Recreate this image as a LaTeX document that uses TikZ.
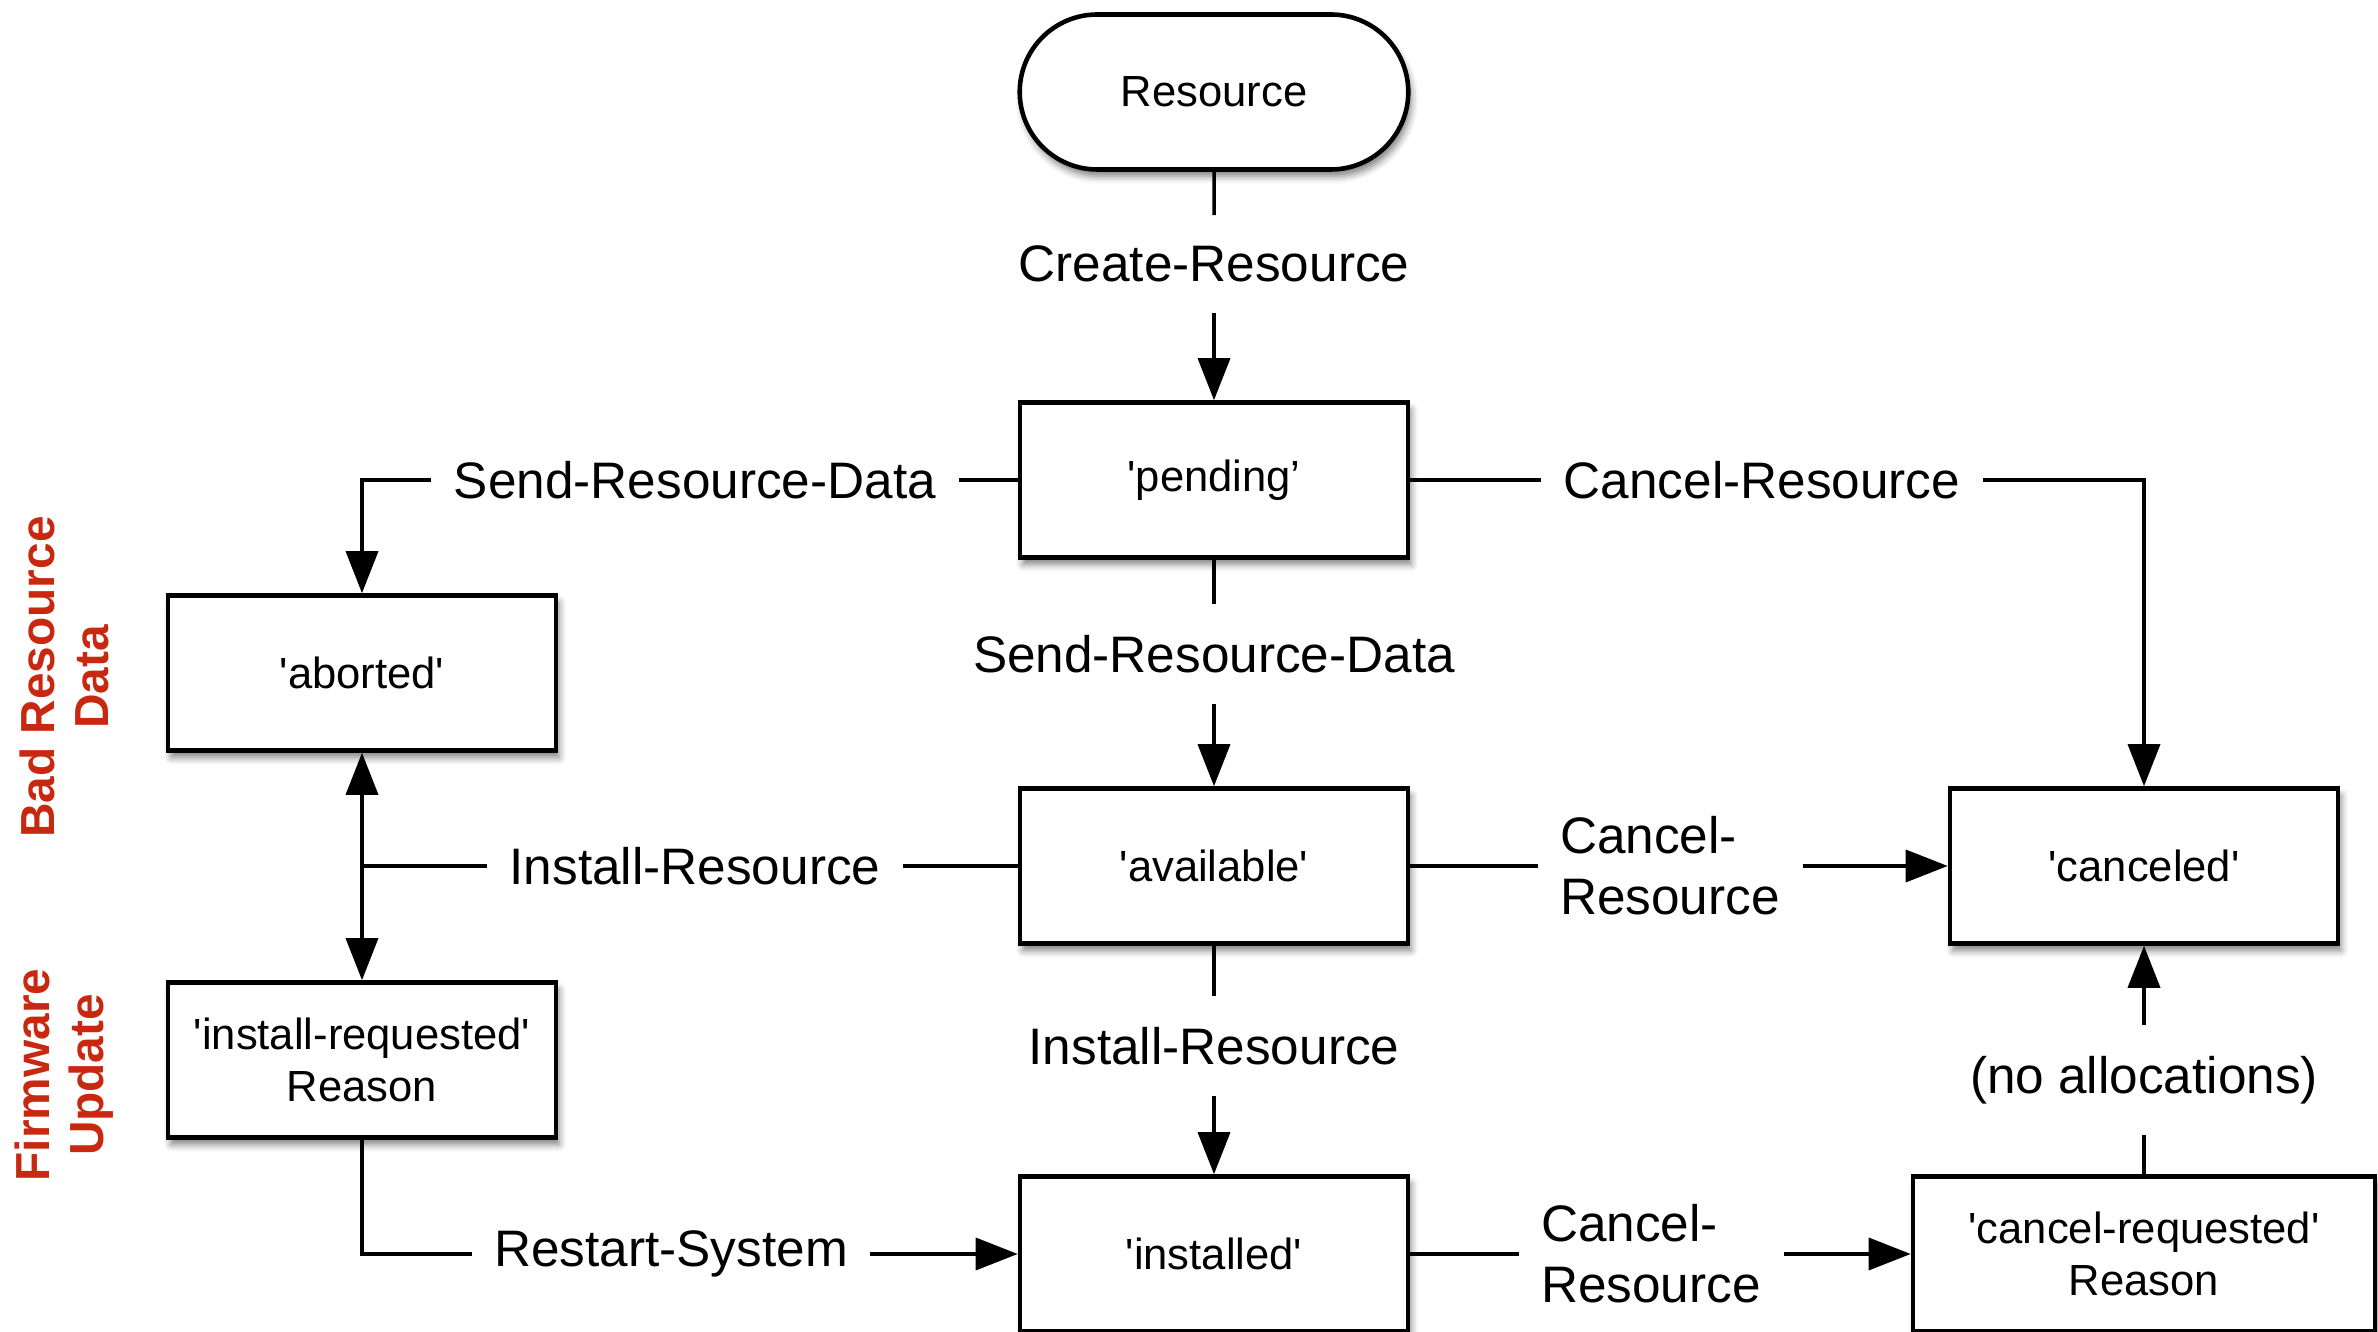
\documentclass[tikz,border=0pt]{standalone}
\usepackage{fontspec}
\setmainfont{Liberation Sans}
\usetikzlibrary{arrows.meta,shapes.misc,shadows.blur}
\definecolor{notered}{RGB}{200,40,15}
\newcommand{\sq}{\textquotesingle}
\tikzset{
    state/.style={draw, line width=1.3pt, fill=white, minimum width=3.88cm, minimum height=1.55cm,
        align=center, font=\fontsize{12.4}{14.8}\selectfont,
        blur shadow={shadow xshift=0.03cm, shadow yshift=-0.07cm, shadow blur radius=0.07cm, shadow opacity=50}},
    terminal/.style={state, rounded rectangle, minimum width=4.12cm},
    event/.style={inner xsep=0.22cm, inner ysep=0.3cm, align=left, font=\fontsize{14.6}{17.4}\selectfont},
    note/.style={text=notered, rotate=90, align=center, font=\fontsize{13.6}{15.4}\selectfont\bfseries},
    flow/.style={line width=1pt, -{Triangle[length=0.42cm, width=0.32cm]}},
    link/.style={line width=1pt}
}
\begin{document}
\begin{tikzpicture}
        \useasboundingbox (0,0) rectangle (23.78,-13.32);
        % --- States ---
        \node[terminal] (res) at (12.14,-0.92) {Resource};
        \node[state] (pend) at (12.14,-4.80) {\sq pending’};
        \node[state] (avail) at (12.14,-8.66) {\sq available\sq};
        \node[state] (inst) at (12.14,-12.54) {\sq installed\sq};
        \node[state] (abort) at (3.62,-6.73) {\sq aborted\sq};
        \node[state] (instreq) at (3.62,-10.60) {\sq install-requested\sq\\Reason};
        \node[state] (cancd) at (21.44,-8.66) {\sq canceled\sq};
        \node[state, minimum width=4.62cm] (cancreq) at (21.44,-12.54) {\sq cancel-requested\sq\\Reason};
        % ---

        % --- Event labels ---
        \node[event] (lcreate) at (12.14,-2.64) {Create-Resource};
        \node[event] (lsendL) at (6.95,-4.80) {Send-Resource-Data};
        \node[event] (lcancT) at (17.62,-4.80) {Cancel-Resource};
        \node[event] (lsendM) at (12.14,-6.54) {Send-Resource-Data};
        \node[event] (linstL) at (6.95,-8.66) {Install-Resource};
        \node[event] (lcancM) at (16.70,-8.66) {Cancel-\\Resource};
        \node[event] (linstM) at (12.14,-10.46) {Install-Resource};
        \node[event] (lnoalloc) at (21.44,-10.80) {(no allocations)};
        \node[event] (lrestart) at (6.71,-12.54) {Restart-System};
        \node[event] (lcancB) at (16.51,-12.54) {Cancel-\\Resource};
        % ---

        % --- Side notes ---
        \node[note] (nbad) at (0.64,-6.77) {Bad Resource\\Data};
        \node[note] (nfw) at (0.64,-10.75) {Firmware\\Update};
        % ---

        % --- Transitions ---
        \draw[link] (res) -- (lcreate);
        \draw[flow] (lcreate) -- (pend);
        \draw[link] (pend) -- (lsendL);
        \draw[flow] (lsendL) -| (abort);
        \draw[link] (pend) -- (lcancT);
        \draw[flow] (lcancT) -| (cancd);
        \draw[link] (pend) -- (lsendM);
        \draw[flow] (lsendM) -- (avail);
        \coordinate (split) at (linstL -| abort);
        \draw[link] (avail) -- (linstL);
        \draw[link] (linstL) -- (split);
        \draw[flow] (split) -- (abort);
        \draw[flow] (split) -- (instreq);
        \draw[link] (avail) -- (lcancM);
        \draw[flow] (lcancM) -- (cancd);
        \draw[link] (avail) -- (linstM);
        \draw[flow] (linstM) -- (inst);
        \draw[link] (instreq) |- (lrestart);
        \draw[flow] (lrestart) -- (inst);
        \draw[link] (inst) -- (lcancB);
        \draw[flow] (lcancB) -- (cancreq);
        \draw[link] (cancreq) -- (lnoalloc);
        \draw[flow] (lnoalloc) -- (cancd);
        % ---
    \end{tikzpicture}
\end{document}
